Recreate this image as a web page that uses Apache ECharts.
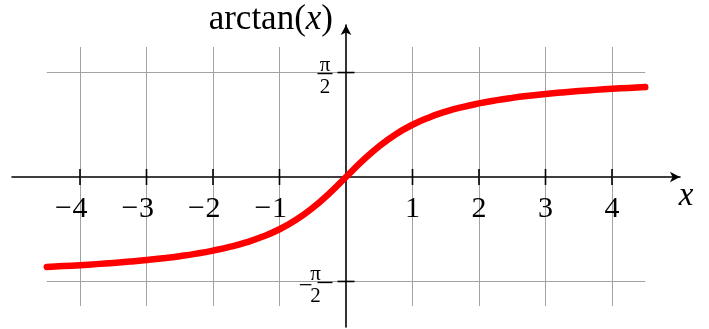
<!DOCTYPE html>
<html><head><meta charset="utf-8">
<script src="https://cdn.jsdelivr.net/npm/echarts@6/dist/echarts.min.js"></script>
<style>html,body{margin:0;padding:0;background:#fff}#c{width:709px;height:329px}</style>
</head><body><div id="c"></div>
<script>
// curve samples (x, arctan(x))
const xValues = [-4.5,-4.25,-4,-3.75,-3.5,-3.25,-3,-2.75,-2.5,-2.25,-2,-1.75,-1.5,-1.25,-1,-0.75,-0.5,-0.25,0,
                 0.25,0.5,0.75,1,1.25,1.5,1.75,2,2.25,2.5,2.75,3,3.25,3.5,3.75,4,4.25,4.5];
const yValues = [-1.3521,-1.3397,-1.3258,-1.3102,-1.2925,-1.2723,-1.2490,-1.2220,-1.1903,-1.1526,-1.1071,-1.0517,-0.9828,-0.8961,-0.7854,-0.6435,-0.4636,-0.2450,0,
                 0.2450,0.4636,0.6435,0.7854,0.8961,0.9828,1.0517,1.1071,1.1526,1.1903,1.2220,1.2490,1.2723,1.2925,1.3102,1.3258,1.3397,1.3521];
const xTicks = [-4,-3,-2,-1,1,2,3,4];
const xTickLabels = ['−4','−3','−2','−1','1','2','3','4'];
const yTicks = [-1.5708, 1.5708];
const yTickSigns = ['−', ''];
const yTickNum = 'π';
const yTickDen = '2';
const gridXRange = [-4.5, 4.5];
const gridYRange = [-1.94, 1.955];
const xName = 'x';
const yNameParts = ['arctan(', 'x', ')'];

const FONT = 'Liberation Serif';
const chart = echarts.init(document.getElementById('c'), null, {renderer: 'canvas'});

const gridLines = [];
xTicks.forEach(t => gridLines.push({coords: [[t, gridYRange[0]], [t, gridYRange[1]]]}));
yTicks.forEach(t => gridLines.push({coords: [[gridXRange[0], t], [gridXRange[1], t]]}));

const option = {
  animation: false,
  backgroundColor: '#fff',
  grid: {left: 12, right: 29, top: 25, bottom: 2, containLabel: false, outerBoundsMode: 'none'},
  xAxis: {
    type: 'value', min: -5.0226, max: 5.0226,
    axisLine: {onZero: true, lineStyle: {color: '#000', width: 1.6}, symbol: ['none', 'arrow'], symbolSize: [8, 10]},
    axisTick: {show: false},
    splitLine: {show: false},
    axisLabel: {show: false},
    name: '{x|' + xName + '}', nameLocation: 'end', nameGap: 6,
    nameTextStyle: {
      align: 'center', verticalAlign: 'middle',
      rich: {x: {fontFamily: FONT, fontStyle: 'italic', fontSize: 33, color: '#000', padding: [38, 0, 0, 0]}}
    }
  },
  yAxis: {
    type: 'value', min: -2.2556, max: 2.2857,
    axisLine: {onZero: true, lineStyle: {color: '#000', width: 1.6}, symbol: ['none', 'arrow'], symbolSize: [8, 10]},
    axisTick: {show: false},
    splitLine: {show: false},
    axisLabel: {show: false},
    name: '{a|' + yNameParts[0] + '}{i|' + yNameParts[1] + '}{a|' + yNameParts[2] + '}',
    nameLocation: 'end', nameGap: 5,
    nameTextStyle: {
      align: 'right', verticalAlign: 'middle', padding: [0, 13, 0, 0],
      rich: {
        a: {fontFamily: FONT, fontSize: 35, color: '#000'},
        i: {fontFamily: FONT, fontSize: 35, fontStyle: 'italic', color: '#000'}
      }
    }
  },
  series: [
    {
      type: 'lines', coordinateSystem: 'cartesian2d', silent: true, z: 1,
      lineStyle: {color: '#a3a3a3', width: 1, opacity: 1},
      data: gridLines
    },
    {
      // x ticks (crossing the axis) with their labels
      type: 'scatter', silent: true, z: 3, symbol: 'rect', symbolSize: [1.6, 16],
      itemStyle: {color: '#000', opacity: 1},
      data: xTicks.map(t => [t, 0]),
      label: {
        show: true, position: 'bottom', distance: 9, color: '#000',
        formatter: p => {
          const s = xTickLabels[p.dataIndex];
          if (s.charAt(0) === '−') return '{m|−}{d|' + s.slice(1) + '}{s|\u00a0}';
          return '{d|' + s + '}';
        },
        rich: {
          m: {fontFamily: FONT, fontSize: 30, color: '#000', width: 18, align: 'center'},
          d: {fontFamily: FONT, fontSize: 30, color: '#000'},
          s: {fontFamily: FONT, fontSize: 30, width: 18}
        }
      }
    },
    {
      // y ticks (crossing the axis) with fraction labels
      type: 'scatter', silent: true, z: 3, symbol: 'rect', symbolSize: [17, 1.6],
      itemStyle: {color: '#000', opacity: 1},
      data: yTicks.map(t => [0, t]),
      label: {
        show: true, position: 'left', distance: 5, color: '#000', align: 'right', verticalAlign: 'middle',
        padding: [14, 0, 0, 0],
        formatter: p => {
          const sign = yTickSigns[p.dataIndex];
          return '{n|' + yTickNum + '}\n' + (sign ? '{m|' + sign + '}' : '') + '{bar|\u00a0}\n{d|' + yTickDen + '}';
        },
        rich: {
          n: {fontFamily: FONT, fontSize: 21, color: '#000', lineHeight: 12, width: 15, align: 'center'},
          d: {fontFamily: FONT, fontSize: 21, color: '#000', lineHeight: 24, width: 15, align: 'center'},
          m: {fontFamily: FONT, fontSize: 25, color: '#000', lineHeight: 4, padding: [7, 5, 0, 0]},
          bar: {fontSize: 1, width: 15, height: 1.4, lineHeight: 4, backgroundColor: '#000'}
        }
      }
    },
    {
      type: 'line', z: 5, silent: true, showSymbol: false, smooth: true,
      lineStyle: {color: '#ff0000', width: 6.5, cap: 'round', join: 'round'},
      data: xValues.map((x, i) => [x, yValues[i]])
    }
  ]
};
chart.setOption(option);
</script>
</body></html>
